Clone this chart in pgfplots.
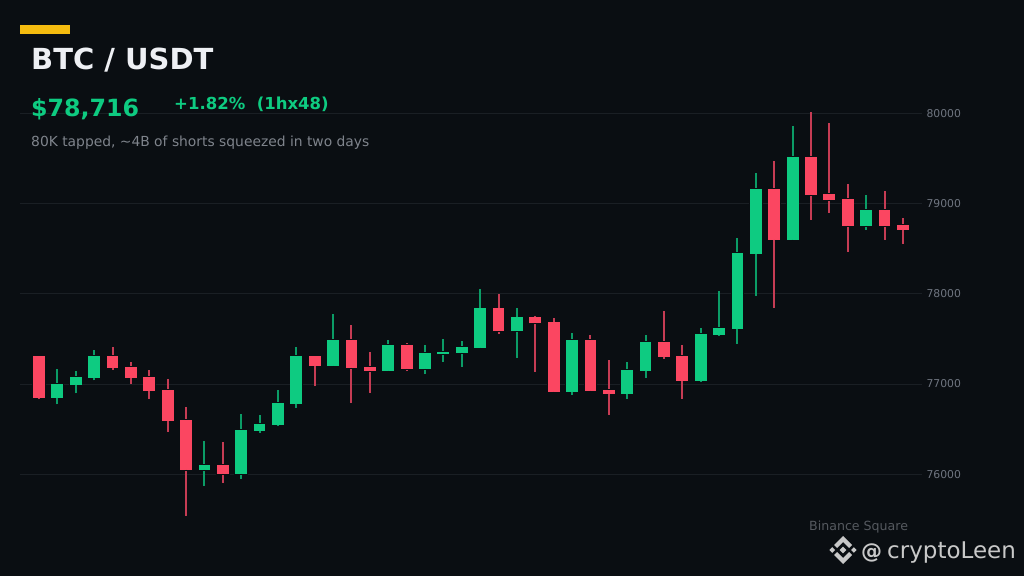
\documentclass[border=0pt]{standalone}
\usepackage{pgfplots}
\usepackage{pgfplotstable}
\usepackage{fontspec}
\setmainfont{DejaVu Sans}
\pgfplotsset{compat=1.18}
\definecolor{bg}{HTML}{0A0E12}
\definecolor{up}{HTML}{0ECB81}
\definecolor{dn}{HTML}{FB4661}
\definecolor{upw}{HTML}{0B9C66}
\definecolor{dnw}{HTML}{C63C54}
\definecolor{gridc}{HTML}{1A1F24}
\definecolor{tickc}{HTML}{6F7580}
\definecolor{subc}{HTML}{7F848C}
\definecolor{accent}{HTML}{F5BC0F}
\definecolor{titlec}{HTML}{EEF0F4}
\definecolor{markc}{HTML}{55595F}
\definecolor{brand}{HTML}{C8C8C8}
% x high top bot low
\pgfplotstableread{
x high top bot low
1 77170 77004 76848 76774
2 77144 77081 76993 76896
3 77381 77315 77070 77041
9 76367 76104 76049 75875
11 76671 76493 76005 75949
12 76660 76560 76482 76460
13 76937 76793 76549 76537
14 77414 77315 76782 76737
16 77772 77487 77201 77190
19 77487 77432 77146 77146
21 77432 77344 77168 77113
22 77498 77355 77333 77245
23 77476 77410 77344 77190
24 78058 77838 77399 77399
26 77838 77739 77586 77289
29 77564 77487 76916 76883
32 77247 77158 76893 76838
33 77546 77469 77148 77070
36 77624 77557 77037 77026
37 78033 77624 77546 77535
38 78620 78454 77613 77446
39 79339 79162 78443 77978
41 79860 79517 78598 78598
45 79096 78930 78753 78708
}\tblup
\pgfplotstableread{
x high top bot low
0 77322 77315 76848 76830
4 77414 77315 77181 77159
5 77248 77192 77070 77004
6 77159 77081 76926 76837
7 77059 76937 76593 76471
8 76748 76604 76049 75539
10 76360 76104 76005 75905
15 77322 77315 77204 76974
17 77651 77487 77179 76795
18 77355 77190 77146 76905
20 77454 77432 77168 77146
25 77992 77838 77586 77553
27 77750 77739 77673 77135
28 77728 77684 76916 76916
30 77542 77487 76927 76927
31 77269 76937 76893 76661
34 77812 77469 77303 77280
35 77435 77314 77037 76838
40 79472 79162 78598 77845
42 80015 79517 79096 78819
43 79893 79107 79041 78897
44 79218 79052 78753 78465
46 79140 78930 78753 78598
47 78841 78764 78709 78553
}\tbldn
\pgfplotsset{candle/.style={only marks, mark=*, mark size=0pt, mark options={draw=none, fill=none}, forget plot}}
\newcommand{\candles}[3]{%
  \addplot[candle, error bars/.cd, y dir=plus, y explicit, error mark=none,
     error bar style={line width=2pt, color=#3}]
     table[x=x, y=low, y error plus expr=\thisrow{high}-\thisrow{low}] {#1};
  \addplot[candle, error bars/.cd, y dir=plus, y explicit, error mark=none,
     error bar style={line width=13.4pt, color=bg}]
     table[x=x, y expr=\thisrow{bot}-8, y error plus expr=\thisrow{top}-\thisrow{bot}+16] {#1};
  \addplot[candle, error bars/.cd, y dir=plus, y explicit, error mark=none,
     error bar style={line width=11.8pt, color=#2}]
     table[x=x, y=bot, y error plus expr=\thisrow{top}-\thisrow{bot}] {#1};
}
\begin{document}
\begin{tikzpicture}[x=1pt,y=1pt]
\fill[bg] (0,0) rectangle (1024,576);
\path[use as bounding box] (0,0) rectangle (1024,576);
\begin{axis}[
  at={(20pt,56.6pt)}, anchor=south west,
  scale only axis, width=902pt, height=419.7pt,
  xmin=-1.034, xmax=48.04, ymin=75500, ymax=80150,
  axis line style={draw=none},
  xtick=\empty,
  ytick={76000,77000,78000,79000,80000},
  scaled y ticks=false,
  yticklabel pos=right,
  major tick length=0pt,
  tick label style={font=\fontsize{10.8}{12}\selectfont, text=tickc},
  yticklabel style={/pgf/number format/set thousands separator={}, /pgf/number format/assume math mode=true, xshift=1pt},
  ymajorgrids,
  grid style={gridc, line width=0.9pt},
  clip=false,
]
\candles{\tblup}{up}{upw}
\candles{\tbldn}{dn}{dnw}
\end{axis}
\fill[accent] (20,542) rectangle (70,551);
\node[anchor=base west, inner sep=0, text=titlec, font=\fontsize{29}{32}\selectfont\bfseries] at (31,576-70) {BTC / USDT};
\node[anchor=base west, inner sep=0, text=up, font=\fontsize{23.7}{28}\selectfont\bfseries] at (31,576-117) {\$78,716};
\node[anchor=base west, inner sep=0, text=up, font=\fontsize{16.5}{20}\selectfont\bfseries] at (174,576-110) {+1.82\%\ \ (1hx48)};
\node[anchor=base west, inner sep=0, text=subc, font=\fontsize{13.85}{16}\selectfont] at (31,576-146.5) {80K tapped, \textasciitilde{}4B of shorts squeezed in two days};
\node[anchor=base west, inner sep=0, text=markc, font=\fontsize{12.6}{16}\selectfont] at (809,576-530) {Binance Square};
\node[anchor=base west, inner sep=0, text=brand, font=\fontsize{21}{26}\selectfont\bfseries] at (861,576-558) {@};
\node[anchor=base west, inner sep=0, text=brand, font=\fontsize{23}{26}\selectfont] at (887,576-558) {cryptoLeen};
% logo
\begin{scope}[shift={(843,26)}, brand]
\fill (0,3.4) -- (3.4,0) -- (0,-3.4) -- (-3.4,0) -- cycle;
\fill (-13.6,0) -- (-10.8,2.8) -- (-8,0) -- (-10.8,-2.8) -- cycle;
\fill (13.6,0) -- (10.8,2.8) -- (8,0) -- (10.8,-2.8) -- cycle;
\fill (0,14) -- (9,5) -- (6,2) -- (0,8) -- (-6,2) -- (-9,5) -- cycle;
\fill (0,-14) -- (9,-5) -- (6,-2) -- (0,-8) -- (-6,-2) -- (-9,-5) -- cycle;
\end{scope}
\end{tikzpicture}
\end{document}
